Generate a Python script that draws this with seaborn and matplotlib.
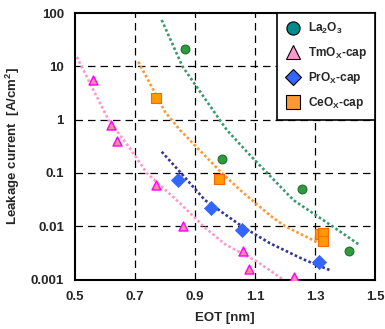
import numpy as np
import pandas as pd
import matplotlib
matplotlib.use("Agg")
import matplotlib.pyplot as plt
from matplotlib.lines import Line2D
import seaborn as sns

# ---- measured markers ----
la_eot = [0.866, 0.990, 1.256, 1.413]
la_j = [21.0, 0.18, 0.051, 0.0035]

tm_eot = [0.561, 0.620, 0.640, 0.771, 0.860, 1.061, 1.080, 1.231]
tm_j = [5.5, 0.79, 0.40, 0.059, 0.0102, 0.0034, 0.0016, 0.0011]

pr_eot = [0.844, 0.952, 1.056, 1.314]
pr_j = [0.073, 0.0217, 0.0085, 0.0021]

ce_eot = [0.769, 0.980, 1.317, 1.326, 1.326]
ce_j = [2.54, 0.078, 0.0071, 0.0076, 0.0052]

# ---- trend curves ----
la_fit_eot = [0.789, 0.858, 1.006, 1.083, 1.228, 1.358, 1.450]
la_fit_j = [74.0, 10.0, 0.64, 0.217, 0.031, 0.010, 0.0044]

tm_fit_eot = [0.506, 0.611, 0.683, 0.739, 0.850, 0.928, 1.000, 1.106, 1.194]
tm_fit_j = [15.0, 1.0, 0.29, 0.10, 0.027, 0.010, 0.0046, 0.0022, 0.0010]

pr_fit_eot = [0.789, 0.853, 0.933, 1.056, 1.150, 1.261, 1.350]
pr_fit_j = [0.25, 0.10, 0.031, 0.010, 0.0048, 0.0024, 0.0015]

ce_fit_eot = [0.711, 0.800, 0.850, 0.989, 1.050, 1.150, 1.200, 1.305]
ce_fit_j = [12.2, 1.4, 0.64, 0.10, 0.048, 0.016, 0.010, 0.0051]

series = ["La2O3", "TmOx-cap", "PrOx-cap", "CeOx-cap"]
legend_labels = ["La$_2$O$_3$", "TmO$_X$-cap", "PrO$_X$-cap", "CeO$_X$-cap"]

xticks = [0.5, 0.7, 0.9, 1.1, 1.3, 1.5]
yticks = [0.001, 0.01, 0.1, 1, 10, 100]
ytick_labels = ["0.001", "0.01", "0.1", "1", "10", "100"]

sns.set_style("white")
plt.rcParams["font.family"] = ["Liberation Sans", "DejaVu Sans"]
plt.rcParams["font.weight"] = "bold"
plt.rcParams["mathtext.fontset"] = "custom"
plt.rcParams["mathtext.rm"] = "Liberation Sans:bold"
plt.rcParams["mathtext.it"] = "Liberation Sans:bold"
plt.rcParams["mathtext.bf"] = "Liberation Sans:bold"

fig = plt.figure(figsize=(3.85, 3.29), dpi=100)
ax = fig.add_axes([75/385, 1-279.6/329, 300/385, (279.6-13)/329])

fits = pd.concat([
    pd.DataFrame({"eot": la_fit_eot, "j": la_fit_j, "s": series[0]}),
    pd.DataFrame({"eot": tm_fit_eot, "j": tm_fit_j, "s": series[1]}),
    pd.DataFrame({"eot": pr_fit_eot, "j": pr_fit_j, "s": series[2]}),
    pd.DataFrame({"eot": ce_fit_eot, "j": ce_fit_j, "s": series[3]}),
])
line_colors = {series[0]: "#3a9a6a", series[1]: "#ff99cc",
               series[2]: "#333399", series[3]: "#ff9933"}
sns.lineplot(data=fits, x="eot", y="j", hue="s", palette=line_colors,
             sort=False, estimator=None, linestyle=(0, (1, 0.9)), linewidth=1.9,
             legend=False, ax=ax)

pts = [
    (la_eot, la_j, "o", "#2f9a3f", "#1f6f2a", 40, 0.8),
    (tm_eot, tm_j, "^", "#f58aa0", "#ff00ff", 42, 1.0),
    (pr_eot, pr_j, "D", "#3366ff", "#3366ff", 52, 0.5),
    (ce_eot, ce_j, "s", "#ff9900", "#ff6600", 42, 0.8),
]
for xs, ys, m, fc, ec, s, lw in pts:
    sns.scatterplot(x=xs, y=ys, marker=m, color=fc, edgecolor=ec, s=s,
                    linewidth=lw, ax=ax, zorder=5)

ax.set_yscale("log")
ax.set_xlim(0.5, 1.5)
ax.set_ylim(0.001, 100)
ax.set_xticks(xticks)
ax.set_xticklabels([f"{v:.1f}" for v in xticks], fontsize=9.5, fontweight="bold")
ax.set_yticks(yticks)
ax.set_yticklabels(ytick_labels, fontsize=9.5, fontweight="bold")
ax.minorticks_off()
ax.tick_params(axis="y", length=0, pad=8)
ax.tick_params(axis="x", length=0, pad=8)

for v in [0.7, 0.9, 1.1, 1.3]:
    ax.axvline(v, color="black", linestyle=(0, (6, 4)), linewidth=0.9, zorder=1)
for v in [0.01, 0.1, 1, 10]:
    ax.axhline(v, color="black", linestyle=(0, (6, 4)), linewidth=0.9, zorder=1)

for sp in ax.spines.values():
    sp.set_color("black")
    sp.set_linewidth(1.5)

ax.set_xlabel("EOT [nm]", fontsize=9.5, fontweight="bold", labelpad=7)
ax.set_ylabel("Leakage current  [A/cm$^2$]", fontsize=9.5, fontweight="bold", labelpad=6)

handles = [
    Line2D([], [], marker="o", linestyle="none", markersize=9.5,
           markerfacecolor="#008b8b", markeredgecolor="black", markeredgewidth=0.8),
    Line2D([], [], marker="^", linestyle="none", markersize=9.5,
           markerfacecolor="#ff99cc", markeredgecolor="black", markeredgewidth=0.8),
    Line2D([], [], marker="D", linestyle="none", markersize=8.5,
           markerfacecolor="#3366ff", markeredgecolor="black", markeredgewidth=0.8),
    Line2D([], [], marker="s", linestyle="none", markersize=9.5,
           markerfacecolor="#ff9933", markeredgecolor="black", markeredgewidth=0.8),
]
leg = ax.legend(handles, legend_labels, loc="upper right", bbox_to_anchor=(1.0, 1.0),
                frameon=True, fancybox=False, framealpha=1, edgecolor="black",
                prop={"size": 8.6, "weight": "bold"}, borderaxespad=0,
                labelspacing=0.75, handletextpad=0.5, borderpad=0.7,
                handlelength=1.4)
leg.get_frame().set_linewidth(1.2)
leg.set_zorder(10)

fig.savefig("out.png", dpi=100)
